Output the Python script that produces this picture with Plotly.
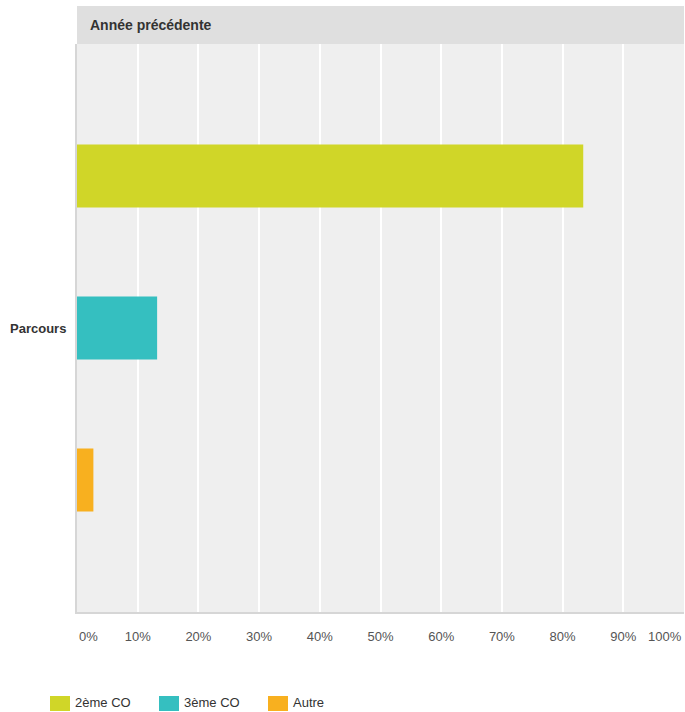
import plotly.graph_objects as go

# Data
category = ["Parcours"]
series_names = ["2ème CO", "3ème CO", "Autre"]
series_values = [83.4, 13.2, 2.7]
series_colors = ["#d0d628", "#35bfc0", "#f8b01f"]
tick_values = [10, 20, 30, 40, 50, 60, 70, 80, 90]
tick_labels = ["10%", "20%", "30%", "40%", "50%", "60%", "70%", "80%", "90%"]
end_ticks = [(0, "0%", "left"), (100, "100%", "right")]
header_title = "Année précédente"

FONT = "Liberation Sans, Arial, Helvetica, sans-serif"

fig = go.Figure()
for name, val, col in zip(series_names, series_values, series_colors):
    fig.add_trace(go.Bar(
        y=category, x=[val], name=name, orientation="h",
        marker=dict(color=col, line=dict(width=0)),
        showlegend=False, hoverinfo="x+name",
    ))

shapes = []
annotations = []

# Header band
shapes.append(dict(type="rect", xref="paper", yref="paper", x0=0, x1=1,
                   ysizemode="pixel", yanchor=1, y0=0, y1=38,
                   fillcolor="#dfdfdf", line=dict(width=0), layer="below"))
annotations.append(dict(xref="paper", yref="paper", x=0, y=1, xanchor="left", yanchor="middle",
                        xshift=11, yshift=19, showarrow=False, text="<b>%s</b>" % header_title,
                        font=dict(family=FONT, size=14, color="#333333")))

# End tick labels (justified inside the plot)
for v, t, anchor in end_ticks:
    annotations.append(dict(xref="x", yref="paper", x=v, y=0, xanchor=anchor, yanchor="middle",
                            yshift=-24, showarrow=False, text=t,
                            font=dict(family=FONT, size=13, color="#555555")))

# Custom legend
legend_x = [50, 159, 268]
for name, col, lx in zip(series_names, series_colors, legend_x):
    shapes.append(dict(type="rect", xref="paper", yref="paper",
                       xsizemode="pixel", xanchor=0, x0=lx - 77, x1=lx - 77 + 20,
                       ysizemode="pixel", yanchor=0, y0=-99, y1=-84,
                       fillcolor=col, line=dict(width=0)))
    annotations.append(dict(xref="paper", yref="paper", x=0, y=0, xanchor="left", yanchor="middle",
                            xshift=lx - 77 + 23, yshift=-90, showarrow=False, text=name,
                            font=dict(family=FONT, size=13, color="#333333")))

fig.update_layout(
    width=685, height=712,
    margin=dict(l=77, r=1, t=44, b=100, pad=0),
    paper_bgcolor="white", plot_bgcolor="#efefef",
    barmode="group", bargap=0.197, bargroupgap=0.585,
    font=dict(family=FONT, size=13, color="#555555"),
    shapes=shapes, annotations=annotations,
    xaxis=dict(range=[0, 100], tickmode="array", tickvals=tick_values, ticktext=tick_labels,
               showgrid=True, gridcolor="#ffffff", gridwidth=2, zeroline=False,
               showline=True, linecolor="#d6d6d6", linewidth=2,
               ticks="", ticklabelstandoff=11,
               tickfont=dict(family=FONT, size=13, color="#555555"), fixedrange=True),
    yaxis=dict(autorange="reversed", showgrid=False, zeroline=False,
               showline=True, linecolor="#d6d6d6", linewidth=2, ticks="",
               ticklabelstandoff=6,
               tickfont=dict(family=FONT, size=13, color="#333333", weight="bold"),
               fixedrange=True),
    showlegend=False,
)

fig.write_html("out.html", config={"displayModeBar": False},
               post_script="document.body.style.margin='0';document.body.style.overflow='hidden';")
